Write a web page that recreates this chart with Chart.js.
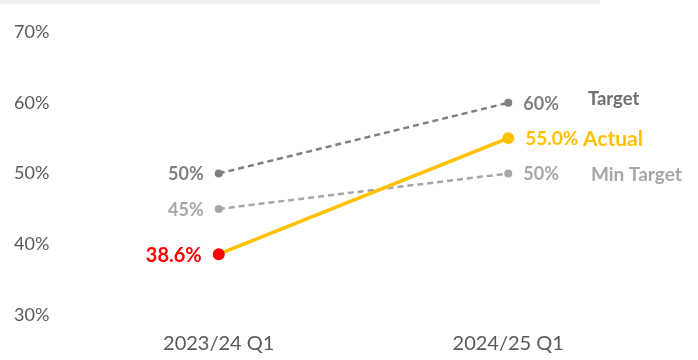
<!DOCTYPE html>
<html>
<head>
<meta charset="utf-8">
<script src="https://cdn.jsdelivr.net/npm/chart.js@4/dist/chart.umd.min.js"></script>
<style>
  html, body { margin: 0; padding: 0; background: #ffffff; }
  #wrap { width: 698px; height: 360px; position: relative; }
</style>
</head>
<body>
<div id="wrap"><canvas id="c" width="698" height="360"></canvas></div>
<script>
// Reporting periods and the three series (percent)
const periods = ['2023/24 Q1', '2024/25 Q1'];
const seriesNames = ['Actual', 'Target', 'Min Target'];
const actualValues = [38.6, 55.0];
const targetValues = [50, 60];
const minTargetValues = [45, 50];
const yTicks = [30, 40, 50, 60, 70];

const FONT = 'Lato, "Noto Sans", sans-serif';
const AXIS_GREY = '#595959';

// Per-series look: colours and sizes for line, value labels and name labels
const styles = {
  'Actual':     { line: '#ffc000', points: ['#ff0000', '#ffc000'], labels: ['#ff0000', '#ffc000'], name: '#ffc000',
                  decimals: 1, sizes: [20, 19], nameSize: 21, gapName: 'space' },
  'Target':     { line: '#7f7f7f', points: ['#7f7f7f', '#7f7f7f'], labels: ['#7f7f7f', '#7f7f7f'], name: '#6f6f6f',
                  decimals: 0, sizes: [18, 18], nameSize: 18.5, gapName: 29, nameDy: -5 },
  'Min Target': { line: '#a6a6a6', points: ['#a6a6a6', '#a6a6a6'], labels: ['#a6a6a6', '#a6a6a6'], name: '#a6a6a6',
                  decimals: 0, sizes: [18, 18], nameSize: 19, gapName: 32 }
};

const valuesByName = { 'Actual': actualValues, 'Target': targetValues, 'Min Target': minTargetValues };

const datasets = seriesNames.map(name => {
  const s = styles[name];
  const isActual = name === 'Actual';
  return {
    label: name,
    data: valuesByName[name],
    borderColor: s.line,
    borderWidth: isActual ? 3.5 : 2.5,
    borderDash: isActual ? [] : [6, 4],
    pointBackgroundColor: s.points,
    pointBorderColor: s.points,
    pointRadius: isActual ? 6 : 4,
    pointBorderWidth: 0,
    tension: 0,
    fill: false
  };
});

// Paints the page background and the thin band along the top edge
const backdrop = {
  id: 'backdrop',
  beforeDraw(chart) {
    const ctx = chart.ctx;
    ctx.save();
    ctx.fillStyle = '#ffffff';
    ctx.fillRect(0, 0, chart.width, chart.height);
    ctx.fillStyle = '#f2f2f2';
    ctx.fillRect(0, 0, 600, 4);
    ctx.restore();
  }
};

// Writes each point's value beside it, and the series name after the last value
const pointLabels = {
  id: 'pointLabels',
  afterDatasetsDraw(chart) {
    const ctx = chart.ctx;
    ctx.save();
    ctx.textBaseline = 'middle';
    chart.data.datasets.forEach((ds, di) => {
      const s = styles[ds.label];
      const meta = chart.getDatasetMeta(di);
      const last = meta.data.length - 1;
      meta.data.forEach((pt, i) => {
        const v = ds.data[i];
        const text = v.toFixed(s.decimals) + '%';
        ctx.font = 'bold ' + s.sizes[i] + 'px ' + FONT;
        ctx.fillStyle = s.labels[i];
        const off = ds.label === 'Actual' ? 17 : 15;
        if (i === 0) {
          ctx.textAlign = 'right';
          ctx.fillText(text, pt.x - off, pt.y + 1);
        } else {
          ctx.textAlign = 'left';
          const x0 = pt.x + off;
          ctx.fillText(text, x0, pt.y + 1);
          if (i === last) {
            const w = ctx.measureText(text).width;
            let nx;
            if (s.gapName === 'space') nx = x0 + w + ctx.measureText(' ').width;
            else nx = x0 + w + s.gapName;
            ctx.font = 'bold ' + s.nameSize + 'px ' + FONT;
            ctx.fillStyle = s.name;
            ctx.fillText(ds.label, nx, pt.y + 1 + (s.nameDy || 0));
          }
        }
      });
    });
    ctx.restore();
  }
};

new Chart(document.getElementById('c'), {
  type: 'line',
  data: { labels: periods, datasets },
  plugins: [backdrop, pointLabels],
  options: {
    responsive: false,
    devicePixelRatio: 1,
    animation: false,
    layout: { padding: { left: 14, right: 45, top: 32, bottom: 5 } },
    plugins: { legend: { display: false }, tooltip: { enabled: false } },
    scales: {
      x: {
        type: 'category',
        offset: true,
        afterFit(scale) { scale.height = 40; },
        grid: { display: false, drawTicks: false },
        border: { display: false },
        ticks: { color: AXIS_GREY, font: { family: FONT, size: 20 }, padding: 17, maxRotation: 0 }
      },
      y: {
        min: yTicks[0],
        max: yTicks[yTicks.length - 1],
        afterBuildTicks(scale) { scale.ticks = yTicks.map(v => ({ value: v })); },
        afterFit(scale) { scale.width = 60; },
        grid: { display: false, drawTicks: false },
        border: { display: false },
        ticks: {
          color: AXIS_GREY,
          font: { family: FONT, size: 18 },
          crossAlign: 'far',
          padding: 0,
          callback: v => v + '%'
        }
      }
    }
  }
});
</script>
</body>
</html>
